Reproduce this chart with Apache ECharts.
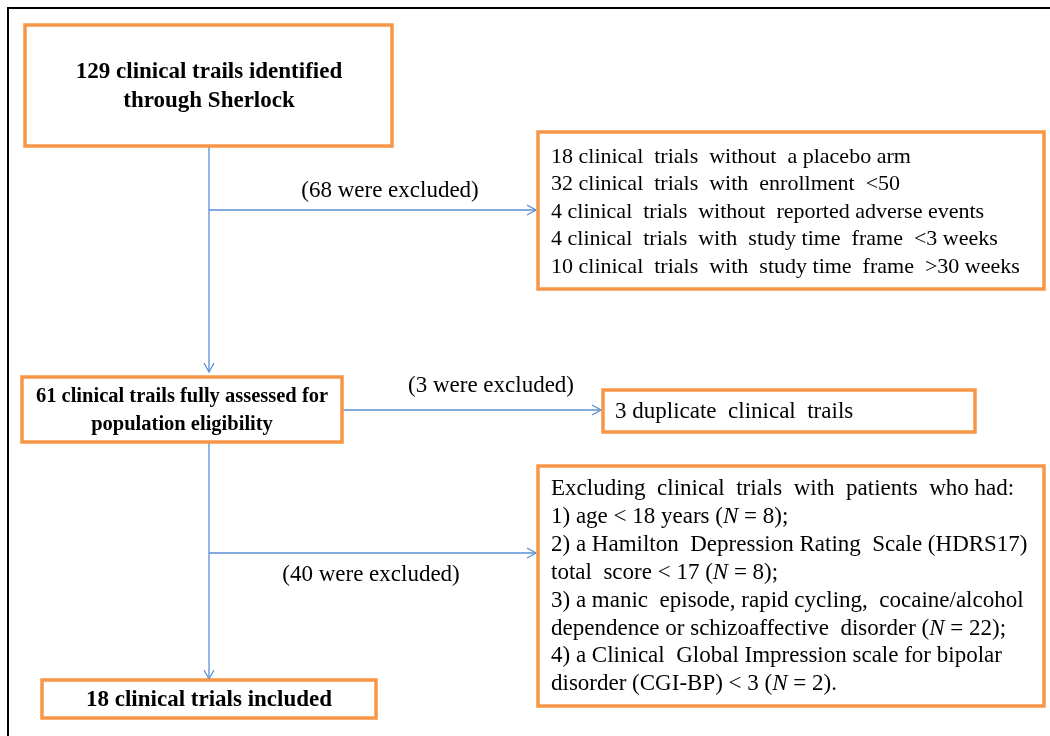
<!DOCTYPE html>
<html>
<head>
<meta charset="utf-8">
<script src="https://cdn.jsdelivr.net/npm/echarts@6/dist/echarts.min.js"></script>
<style>
  html, body { margin: 0; padding: 0; background: #fff; }
  #main { width: 1050px; height: 736px; }
</style>
</head>
<body>
<div id="main"></div>
<script>
  // flow stages (main column)
  var stageLines = [
    ['129 clinical trails identified', 'through Sherlock'],
    ['61 clinical trails fully assessed for', 'population eligibility'],
    ['18 clinical trials included']
  ];
  // labels on the side arrows
  var excludedLabels = ['(68 were excluded)', '(3 were excluded)', '(40 were excluded)'];
  // reasons in the side boxes
  var firstReasons = [
    '18 clinical  trials  without  a placebo arm',
    '32 clinical  trials  with  enrollment  <50',
    '4 clinical  trials  without  reported adverse events',
    '4 clinical  trials  with  study time  frame  <3 weeks',
    '10 clinical  trials  with  study time  frame  >30 weeks'
  ];
  var duplicateReasons = ['3 duplicate  clinical  trails'];
  var populationReasons = [
    'Excluding  clinical  trials  with  patients  who had:',
    '1) age < 18 years ({i|N} = 8);',
    '2) a Hamilton  Depression Rating  Scale (HDRS17)',
    'total  score < 17 ({i|N} = 8);',
    '3) a manic  episode, rapid cycling,  cocaine/alcohol',
    'dependence or schizoaffective  disorder ({i|N} = 22);',
    '4) a Clinical  Global Impression scale for bipolar',
    'disorder (CGI-BP) < 3 ({i|N} = 2).'
  ];

  var chart = echarts.init(document.getElementById('main'));
  var FONT = '"Liberation Serif", "Times New Roman", serif';
  var ORANGE = '#F79646';
  var BLUE = '#5B8FD6';
  var g = [];

  function box(x, y, w, h) {
    g.push({
      type: 'rect',
      shape: { x: x, y: y, width: w, height: h },
      style: { fill: '#fff', stroke: ORANGE, lineWidth: 3.5 }
    });
  }
  function centerText(lines, cx, y0, step, size, bold) {
    lines.forEach(function (t, i) {
      g.push({
        type: 'text', x: cx, y: y0 + i * step,
        style: {
          text: t, fill: '#000', align: 'center', verticalAlign: 'middle',
          font: (bold ? 'bold ' : '') + size + 'px ' + FONT
        }
      });
    });
  }
  function leftText(lines, x, y0, step, size) {
    lines.forEach(function (t, i) {
      g.push({
        type: 'text', x: x, y: y0 + i * step,
        style: {
          text: t, fill: '#000', align: 'left', verticalAlign: 'middle',
          font: size + 'px ' + FONT,
          rich: { i: { fontStyle: 'italic', fontSize: size, fontFamily: FONT } }
        }
      });
    });
  }
  function line(pts) {
    g.push({
      type: 'polyline', shape: { points: pts },
      style: { stroke: BLUE, lineWidth: 1.3, fill: null }
    });
  }
  function arrowDown(x, y1, y2) {
    line([[x, y1], [x, y2]]);
    line([[x - 5, y2 - 9], [x, y2], [x + 5, y2 - 9]]);
  }
  function arrowRight(x1, x2, y) {
    line([[x1, y], [x2, y]]);
    line([[x2 - 9, y - 5], [x2, y], [x2 - 9, y + 5]]);
  }

  // outer frame (only top and left edges visible)
  g.push({ type: 'polyline', shape: { points: [[8, 736], [8, 8], [1050, 8]] },
    style: { stroke: '#000', lineWidth: 2, fill: null } });

  // connectors
  arrowDown(209, 146, 372);
  arrowRight(209, 536, 210);
  arrowRight(342, 601, 410);
  arrowDown(209, 442, 679);
  arrowRight(209, 536, 553);

  // boxes
  box(25, 25, 367, 121);
  centerText(stageLines[0], 209, 72, 29, 23, true);
  box(22, 377, 320, 65);
  centerText(stageLines[1], 182, 397, 28, 20.5, true);
  box(42, 680, 334, 38);
  centerText(stageLines[2], 209, 700, 28, 23, true);

  box(538, 132, 506, 157);
  leftText(firstReasons, 551, 157, 27.5, 22);
  box(603, 390, 372, 42);
  leftText(duplicateReasons, 615, 412, 28, 23);
  box(538, 466, 506, 240);
  leftText(populationReasons, 551, 489, 27.9, 23);

  // arrow labels
  centerText([excludedLabels[0]], 390, 191, 28, 23, false);
  centerText([excludedLabels[1]], 491, 386, 28, 23, false);
  centerText([excludedLabels[2]], 371, 575, 28, 23, false);

  chart.setOption({ animation: false, graphic: { elements: g } });
</script>
</body>
</html>
